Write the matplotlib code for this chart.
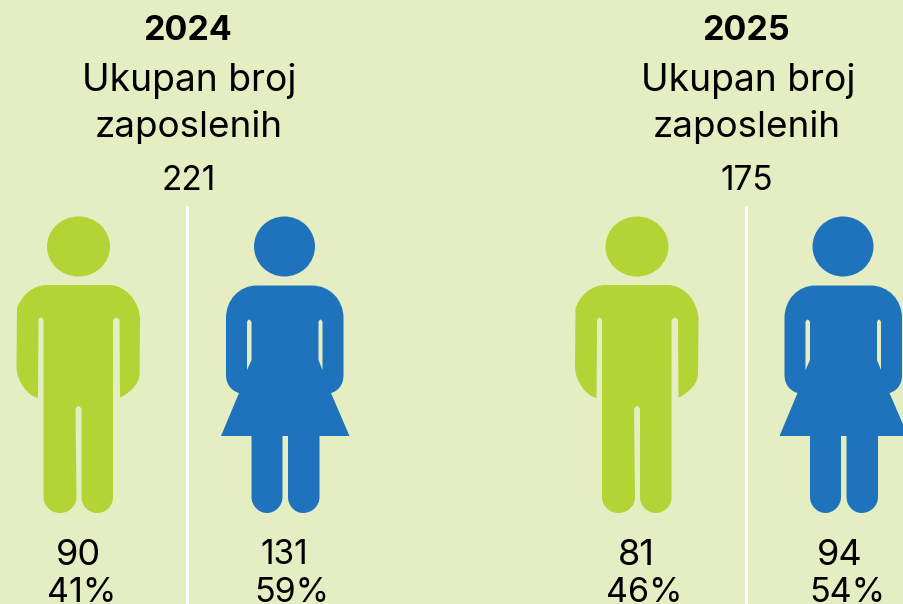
import matplotlib
matplotlib.use("Agg")
import matplotlib.pyplot as plt
from matplotlib.path import Path
from matplotlib.patches import PathPatch, Ellipse

years = ["2024", "2025"]
title_lines = ["Ukupan broj", "zaposlenih"]
totals = ["221", "175"]
men_counts = ["90", "81"]
women_counts = ["131", "94"]
men_shares = ["41%", "46%"]
women_shares = ["59%", "54%"]

BG = "#E5EEC2"
GREEN = "#B4D334"
BLUE = "#1F73BC"
FONT = ["Inter", "DejaVu Sans"]
M, L, C3, C4, Z = Path.MOVETO, Path.LINETO, Path.CURVE3, Path.CURVE4, Path.CLOSEPOLY


def build(segments):
    verts, codes = [], []
    for code, pt in segments:
        verts.append(pt)
        codes.append(code)
    return verts, codes


def man_path(dx):
    seg = [
        (M, (47, 285)), (L, (109, 285)),
        (C4, (126, 285)), (C4, (140, 302)), (C4, (140, 320)),
        (L, (139.5, 375)),
        (C4, (139, 385)), (C4, (128, 394)), (C4, (120, 397.5)),
        (L, (119.5, 320)), (C3, (116.5, 315)), (C3, (113, 320)),
        (L, (113, 497)),
        (C4, (113, 506)), (C4, (106, 513)), (C4, (97, 513)),
        (C4, (89, 513)), (C4, (81.5, 506)), (C4, (81.5, 497)),
        (L, (81.5, 409)), (C3, (78.5, 403)), (C3, (75.5, 409)),
        (L, (76.5, 497)),
        (C4, (76.5, 506)), (C4, (69, 513)), (C4, (60, 513)),
        (C4, (51, 513)), (C4, (43.5, 506)), (C4, (43.5, 497)),
        (L, (43.5, 320)), (C3, (41, 315)), (C3, (38.5, 320)),
        (L, (38, 398)),
        (C4, (28, 396)), (C4, (17, 382)), (C4, (16.5, 367)),
        (L, (17, 308)),
        (C4, (22, 295)), (C4, (33, 285)), (C4, (47, 285)),
        (Z, (47, 285)),
    ]
    v, c = build(seg)
    return Path([(x + dx, y) for x, y in v], c)


def woman_path(dx):
    seg = [
        (M, (257, 285.5)), (L, (312, 285.5)),
        (C4, (330, 285.5)), (C4, (343.5, 300)), (C4, (343.5, 318)),
        (L, (343.5, 375)),
        (C4, (343.5, 385)), (C4, (338, 391)), (C4, (331, 393)),
        (L, (349.5, 436)), (L, (319.5, 436)), (L, (319.5, 497)),
        (C4, (319.5, 506)), (C4, (312, 513)), (C4, (303, 513)),
        (C4, (295, 513)), (C4, (288, 506)), (C4, (288, 497)),
        (L, (288, 436)), (L, (282.5, 436)), (L, (282.5, 497)),
        (C4, (282.5, 506)), (C4, (275, 513)), (C4, (267, 513)),
        (C4, (259, 513)), (C4, (251.5, 506)), (C4, (251.5, 497)),
        (L, (251.5, 436)), (L, (221, 436)), (L, (239, 393)),
        (C4, (232, 391)), (C4, (226, 385)), (C4, (226, 375)),
        (L, (226, 318)),
        (C4, (226, 300)), (C4, (239, 285.5)), (C4, (257, 285.5)),
        (Z, (257, 285.5)),
        (M, (247, 322)), (L, (247, 370)), (L, (251.5, 360)), (L, (251.5, 322)),
        (C3, (249, 317)), (C3, (247, 322)), (Z, (247, 322)),
        (M, (318.5, 322)), (L, (318.5, 360)), (L, (322.5, 370)), (L, (322.5, 322)),
        (C3, (320.5, 317)), (C3, (318.5, 322)), (Z, (318.5, 322)),
    ]
    v, c = build(seg)
    return Path([(x + dx, y) for x, y in v], c)


fig = plt.figure(figsize=(9.04, 6.04), dpi=100, facecolor=BG)
ax = fig.add_axes([0, 0, 1, 1])
ax.set_xlim(0, 904)
ax.set_ylim(604, 0)
ax.axis("off")


def txt(x, y, s, size=25.5, weight="normal"):
    ax.text(x, y, s, ha="center", va="center_baseline", fontsize=size,
            fontweight=weight, family=FONT, color="black")


panel_dx = [0, 558.5]
year_x = [188, 746]
total_x = [189, 746.5]
men_count_x = [78, 636]
women_count_x = [284.5, 840]
men_share_x = [81.5, 644.5]
women_share_x = [291.5, 847]
for i, dx in enumerate(panel_dx):
    txt(year_x[i], 28, years[i], size=24.5, weight="bold")
    txt(189.5 + dx, 77, title_lines[0], size=26.8)
    txt(188.5 + dx, 123, title_lines[1], size=26.5)
    txt(total_x[i], 178, totals[i], size=24)
    ax.plot([187.5 + dx, 187.5 + dx], [206, 604], color="white", lw=2.2,
            solid_capstyle="butt")
    ax.add_patch(Ellipse((78.5 + dx, 246.5), 63, 60, fc=GREEN, ec="none"))
    ax.add_patch(PathPatch(man_path(dx), fc=GREEN, ec="none"))
    ax.add_patch(Ellipse((284.5 + dx, 246.5), 61, 60, fc=BLUE, ec="none"))
    ax.add_patch(PathPatch(woman_path(dx), fc=BLUE, ec="none"))
    txt(men_count_x[i], 552, men_counts[i], size=26)
    txt(men_share_x[i], 590, men_shares[i], size=24.5)
    txt(women_count_x[i], 552, women_counts[i], size=24 if i == 0 else 26)
    txt(women_share_x[i], 590, women_shares[i], size=24.5)

fig.savefig("out.png", dpi=100, facecolor=BG)
